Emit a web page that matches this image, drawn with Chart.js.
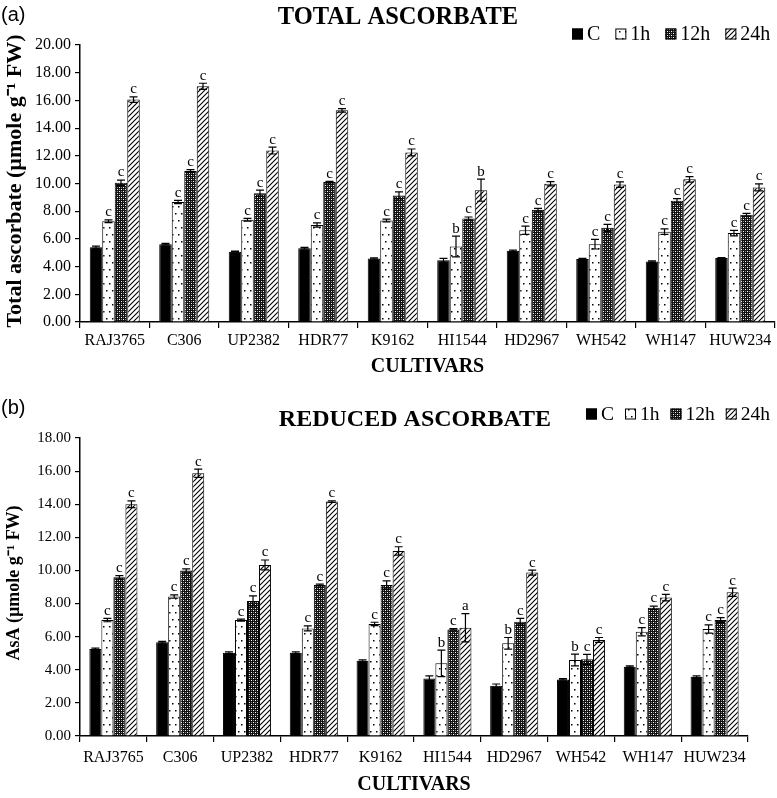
<!DOCTYPE html>
<html>
<head>
<meta charset="utf-8">
<script src="https://cdn.jsdelivr.net/npm/chart.js@4.4.0/dist/chart.umd.min.js"></script>
<style>
  html, body { margin: 0; padding: 0; background: #fff; }
  #wrap { position: relative; width: 777px; height: 798px; }
  canvas { position: absolute; left: 0; }
</style>
</head>
<body>
<div id="wrap">
  <canvas id="chartA" width="777" height="380" style="top:0"></canvas>
  <canvas id="chartB" width="777" height="413" style="top:385px"></canvas>
</div>
<script>
const SERIF = "'Liberation Serif', 'Times New Roman', serif";
Chart.defaults.font.family = SERIF;
Chart.defaults.color = '#000';

const CULTIVARS = ['RAJ3765', 'C306', 'UP2382', 'HDR77', 'K9162', 'HI1544', 'HD2967', 'WH542', 'WH147', 'HUW234'];
const SERIES = ['C', '1h', '12h', '24h'];

// (a) total ascorbate
const TOTAL_C   = [5.40, 5.62, 5.08, 5.33, 4.58, 4.45, 5.15, 4.55, 4.36, 4.62];
const TOTAL_1H  = [7.28, 8.66, 7.38, 7.00, 7.33, 5.45, 6.62, 5.62, 6.52, 6.42];
const TOTAL_12H = [10.05, 10.90, 9.30, 10.10, 9.14, 7.48, 8.10, 6.80, 8.76, 7.75];
const TOTAL_24H = [16.06, 17.02, 12.38, 15.28, 12.24, 9.52, 9.98, 9.92, 10.30, 9.72];
const TOTAL_ERR_C   = [0.08, 0.05, 0.04, 0.06, 0.05, 0.15, 0.05, 0.05, 0.05, 0.03];
const TOTAL_ERR_1H  = [0.10, 0.12, 0.10, 0.15, 0.10, 0.75, 0.30, 0.35, 0.20, 0.20];
const TOTAL_ERR_12H = [0.20, 0.10, 0.22, 0.05, 0.25, 0.10, 0.10, 0.25, 0.15, 0.10];
const TOTAL_ERR_24H = [0.20, 0.22, 0.25, 0.12, 0.25, 0.80, 0.15, 0.20, 0.20, 0.25];
const TOTAL_SIG_1H  = ['c', 'c', 'c', 'c', 'c', 'b', 'c', 'c', 'c', 'c'];
const TOTAL_SIG_12H = ['c', 'c', 'c', 'c', 'c', 'c', 'c', 'c', 'c', 'c'];
const TOTAL_SIG_24H = ['c', 'c', 'c', 'c', 'c', 'b', 'c', 'c', 'c', 'c'];

// (b) reduced ascorbate
const ASA_C   = [5.26, 5.66, 5.03, 5.03, 4.55, 3.48, 3.04, 3.42, 4.19, 3.58];
const ASA_1H  = [7.00, 8.42, 7.00, 6.50, 6.77, 4.39, 5.60, 4.59, 6.30, 6.46];
const ASA_12H = [9.59, 9.99, 8.16, 9.12, 9.12, 6.44, 6.90, 4.63, 7.75, 7.00];
const ASA_24H = [14.00, 15.87, 10.33, 14.16, 11.18, 6.54, 9.87, 5.80, 8.36, 8.68];
const ASA_ERR_C   = [0.05, 0.05, 0.05, 0.05, 0.05, 0.15, 0.10, 0.05, 0.05, 0.05];
const ASA_ERR_1H  = [0.10, 0.10, 0.06, 0.15, 0.10, 0.80, 0.35, 0.35, 0.25, 0.25];
const ASA_ERR_12H = [0.10, 0.10, 0.30, 0.05, 0.25, 0.05, 0.20, 0.30, 0.10, 0.15];
const ASA_ERR_24H = [0.20, 0.25, 0.30, 0.05, 0.25, 0.85, 0.15, 0.15, 0.20, 0.25];
const ASA_SIG_1H  = ['c', 'c', 'c', 'c', 'c', 'b', 'b', 'b', 'c', 'c'];
const ASA_SIG_12H = ['c', 'c', 'c', 'c', 'c', 'c', 'c', 'c', 'c', 'c'];
const ASA_SIG_24H = ['c', 'c', 'c', 'c', 'c', 'a', 'c', 'c', 'c', 'c'];

function makePattern(kind) {
  const c = document.createElement('canvas');
  const x = c.getContext('2d');
  if (kind === 'dots') {
    c.width = 6; c.height = 14;
    x.fillStyle = '#fff'; x.fillRect(0, 0, 6, 14);
    x.fillStyle = '#000'; x.fillRect(1, 3, 1.5, 1.5); x.fillRect(4, 10, 1.5, 1.5);
  } else if (kind === 'cross') {
    c.width = 4; c.height = 4;
    x.fillStyle = '#111'; x.fillRect(0, 0, 4, 4);
    x.fillStyle = '#fff'; x.fillRect(1, 1, 1, 1); x.fillRect(3, 3, 1, 1);
    x.fillStyle = '#888'; x.fillRect(1, 3, 1, 1); x.fillRect(3, 1, 1, 1);
  } else {
    c.width = 5; c.height = 5;
    x.fillStyle = '#fff'; x.fillRect(0, 0, 5, 5);
    x.strokeStyle = '#000'; x.lineWidth = 1.1;
    x.beginPath();
    x.moveTo(-1, 6); x.lineTo(6, -1);
    x.moveTo(-1, 1); x.lineTo(1, -1);
    x.moveTo(4, 6); x.lineTo(6, 4);
    x.stroke();
  }
  return x.createPattern(c, 'repeat');
}
const FILLS = ['#000', makePattern('dots'), makePattern('cross'), makePattern('diag')];

// error bars + significance letters
const errorBars = {
  id: 'errorBars',
  afterDatasetsDraw(chart) {
    const ctx = chart.ctx, y = chart.scales.y;
    ctx.save();
    ctx.strokeStyle = '#000'; ctx.fillStyle = '#000'; ctx.lineWidth = 1.2;
    ctx.font = '15px ' + SERIF; ctx.textAlign = 'center'; ctx.textBaseline = 'bottom';
    chart.data.datasets.forEach((ds, i) => {
      chart.getDatasetMeta(i).data.forEach((bar, j) => {
        const v = ds.data[j], e = ds.errs[j];
        const top = y.getPixelForValue(v + e), bot = y.getPixelForValue(v - e);
        ctx.beginPath();
        ctx.moveTo(bar.x, top); ctx.lineTo(bar.x, bot);
        ctx.moveTo(bar.x - 4, top); ctx.lineTo(bar.x + 4, top);
        ctx.moveTo(bar.x - 4, bot); ctx.lineTo(bar.x + 4, bot);
        ctx.stroke();
        if (ds.sig && ds.sig[j]) ctx.fillText(ds.sig[j], bar.x, top);
      });
    });
    ctx.restore();
  }
};

// panel letter, title, y-axis title and legend row
const header = {
  id: 'header',
  afterDraw(chart, args, o) {
    const ctx = chart.ctx;
    ctx.save();
    ctx.fillStyle = '#000'; ctx.textBaseline = 'middle';
    ctx.font = "20px 'Liberation Sans', Arial, sans-serif"; ctx.textAlign = 'left';
    ctx.fillText(o.panel, 1, o.panelY);
    ctx.font = 'bold ' + o.titleSize + 'px ' + SERIF; ctx.textAlign = 'center';
    ctx.fillText(o.title, o.titleX, o.titleY);

    ctx.save();
    ctx.translate(o.yTitleX, o.yTitleY); ctx.rotate(-Math.PI / 2);
    ctx.font = 'bold ' + o.yTitleSize + 'px ' + SERIF;
    ctx.fillText(o.yTitle, 0, 0);
    ctx.restore();

    ctx.font = o.legendSize + 'px ' + SERIF; ctx.textAlign = 'left';
    let lx = o.legendX;
    chart.data.datasets.forEach(ds => {
      ctx.fillStyle = ds.backgroundColor;
      ctx.fillRect(lx, o.legendY - 5.5, 11, 11);
      ctx.strokeStyle = '#000'; ctx.lineWidth = 1;
      ctx.strokeRect(lx + 0.5, o.legendY - 5, 10, 10);
      ctx.fillStyle = '#000';
      ctx.fillText(ds.label, lx + 15, o.legendY + 1);
      lx += 15 + ctx.measureText(ds.label).width + o.legendGap;
    });
    ctx.restore();
  }
};

function makeChart(id, series, errs, sigs, yMax, opts) {
  return new Chart(document.getElementById(id), {
    type: 'bar',
    data: {
      labels: CULTIVARS,
      datasets: SERIES.map((s, i) => ({
        label: s, data: series[i], errs: errs[i], sig: sigs[i],
        backgroundColor: FILLS[i], borderColor: '#000', borderWidth: 1,
        categoryPercentage: 0.72, barPercentage: 1.0,
      })),
    },
    options: {
      responsive: false, animation: false, events: [],
      layout: { padding: { left: 0, top: opts.top, right: opts.right, bottom: 0 } },
      plugins: { legend: { display: false }, tooltip: { enabled: false }, header: opts.header },
      scales: {
        x: {
          afterFit: s => { s.height = opts.xHeight; },
          grid: { offset: true, drawOnChartArea: false, drawTicks: true, tickLength: 6, color: '#000', lineWidth: 1.2 },
          border: { color: '#000', width: 1.5 },
          ticks: { autoSkip: false, maxRotation: 0, padding: opts.xPad, font: { size: 16 } },
          title: { display: true, text: 'CULTIVARS', font: { size: 20, weight: 'bold' }, padding: { top: 0, bottom: opts.xTitlePad } },
        },
        y: {
          min: 0, max: yMax,
          afterFit: s => { s.width = 80; },
          grid: { drawOnChartArea: false, drawTicks: true, tickLength: 5, color: '#000', lineWidth: 1.2 },
          border: { color: '#000', width: 1.5 },
          ticks: { stepSize: 2, padding: 4, font: { size: opts.yTickSize }, callback: v => v.toFixed(2) },
        },
      },
    },
    plugins: [errorBars, header],
  });
}

makeChart('chartA',
  [TOTAL_C, TOTAL_1H, TOTAL_12H, TOTAL_24H],
  [TOTAL_ERR_C, TOTAL_ERR_1H, TOTAL_ERR_12H, TOTAL_ERR_24H],
  [null, TOTAL_SIG_1H, TOTAL_SIG_12H, TOTAL_SIG_24H],
  20,
  { top: 45, right: 2, xHeight: 58, xPad: 3, xTitlePad: 1, yTickSize: 16,
    header: { panel: '(a)', panelY: 15, title: 'TOTAL ASCORBATE', titleSize: 24.5, titleX: 398, titleY: 18,
      yTitle: 'Total ascorbate (µmole g⁻¹ FW)', yTitleSize: 22, yTitleX: 15, yTitleY: 181,
      legendX: 572, legendY: 34, legendSize: 20, legendGap: 15 } });

makeChart('chartB',
  [ASA_C, ASA_1H, ASA_12H, ASA_24H],
  [ASA_ERR_C, ASA_ERR_1H, ASA_ERR_12H, ASA_ERR_24H],
  [null, ASA_SIG_1H, ASA_SIG_12H, ASA_SIG_24H],
  18,
  { top: 53, right: 29, xHeight: 62, xPad: 6, xTitlePad: 1, yTickSize: 15,
    header: { panel: '(b)', panelY: 23, title: 'REDUCED ASCORBATE', titleSize: 24, titleX: 415, titleY: 35,
      yTitle: 'AsA (µmole g⁻¹ FW)', yTitleSize: 18, yTitleX: 14, yTitleY: 198,
      legendX: 586, legendY: 29, legendSize: 19.5, legendGap: 11 } });
</script>
</body>
</html>
